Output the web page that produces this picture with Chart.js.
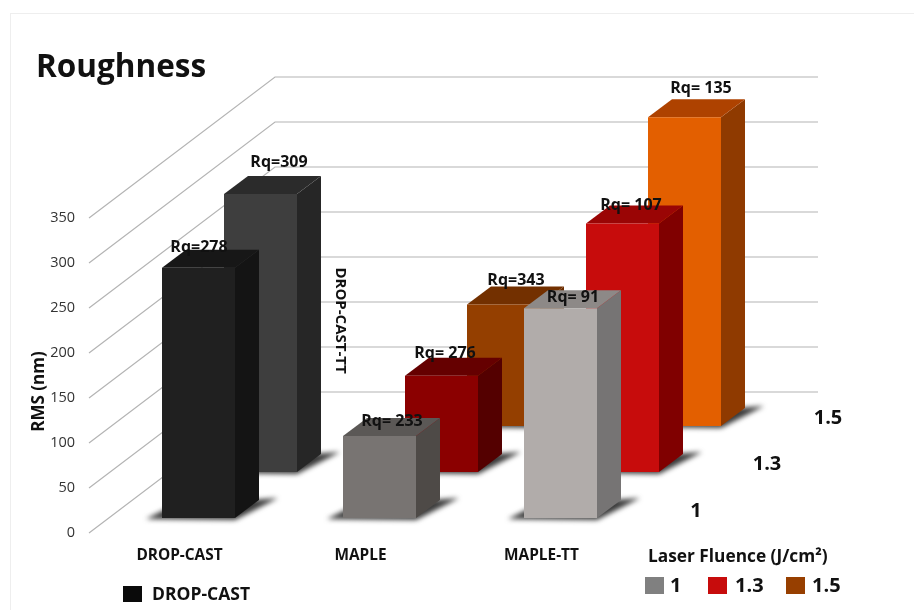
<!DOCTYPE html>
<html>
<head>
<meta charset="utf-8">
<title>Roughness</title>
<script src="https://cdn.jsdelivr.net/npm/chart.js@4"></script>
<style>
  html, body { margin: 0; background: #fff; overflow: hidden; }
  #wrap { position: relative; width: 914px; height: 610px; }
  #frame { position: absolute; left: 10px; top: 13px; width: 920px; height: 620px; border: 1px solid #eee; }
  canvas { position: absolute; left: 0; top: 0; }
</style>
</head>
<body>
<div id="wrap">
  <div id="frame"></div>
  <canvas id="roughChart" width="914" height="610"></canvas>
</div>
<script>
const SAMPLES = ['DROP-CAST', 'MAPLE', 'MAPLE-TT'];
const FLUENCES = ['1', '1.3', '1.5'];
const TT_NAME = 'DROP-CAST-TT';

// bar heights per depth row
const ROW_1 = [278, 91, 233];
const ROW_13 = [309, 107, 276];
const ROW_15 = [null, 135, 343];

// text printed over each bar
const LABELS_1 = ['Rq=278', 'Rq= 233', 'Rq= 91'];
const LABELS_13 = ['Rq=309', 'Rq= 276', 'Rq= 107'];
const LABELS_15 = ['', 'Rq=343', 'Rq= 135'];

const FONT = '"Open Sans", sans-serif';

// front, top and side colours per bar
const ROWS = [
    {
        values: ROW_1, labels: LABELS_1, dx: 19, dy: -15, depthLabel: [696, 510],
        front: ['#202020', '#787472', '#b1acaa'], top: ['#171717', '#5b5856', '#8d8987'], side: ['#141414', '#4e4a47', '#767474'],
        nudge: [[0.5, -22], [12.5, -16], [12.5, -12]]
    },
    {
        values: ROW_13, labels: LABELS_13, dx: 81, dy: -61, depthLabel: [767, 463],
        front: ['#3e3e3e', '#8b0000', '#c70c0c'], top: ['#2b2b2b', '#650000', '#9a0505'], side: ['#262626', '#540000', '#800000'],
        nudge: [[18.5, -33], [3.5, -24], [8.5, -20]]
    },
    {
        values: ROW_15, labels: LABELS_15, dx: 143, dy: -107, depthLabel: [828, 417],
        front: ['#000', '#943f00', '#e35f00'], top: ['#000', '#733000', '#ae4200'], side: ['#000', '#6a2c00', '#8f3a00'],
        nudge: [[0, 0], [12.5, -25.5], [16.5, -30]]
    }
];

const DEPTH_X = 24, DEPTH_Y = 18;
const WALL_DX = 186, WALL_DY = -141, WALL_RIGHT = 818;

function text(ctx, str, x, y, font, color, align, rot) {
    ctx.save();
    ctx.translate(x, y + 1.5);
    if (rot) ctx.rotate(rot);
    ctx.font = font;
    ctx.fillStyle = color || '#111';
    ctx.textAlign = align || 'center';
    ctx.textBaseline = 'middle';
    ctx.fillText(str, 0, 0);
    ctx.restore();
}

function poly(ctx, pts, color) {
    ctx.fillStyle = color;
    ctx.beginPath();
    pts.forEach((p, i) => i ? ctx.lineTo(p[0], p[1]) : ctx.moveTo(p[0], p[1]));
    ctx.closePath();
    ctx.fill();
}

const box3d = {
    id: 'box3d',
    // push each row back into the floor
    afterDatasetsUpdate(chart) {
        ROWS.forEach((row, d) => {
            chart.getDatasetMeta(d).data.forEach(el => {
                el.x += row.dx;
                el.y += row.dy;
                el.base += row.dy;
            });
        });
    },
    beforeDatasetsDraw(chart) {
        const ctx = chart.ctx, y = chart.scales.y;
        ctx.save();
        ctx.strokeStyle = '#b4b4b4';
        ctx.lineWidth = 1.2;
        y.ticks.forEach(t => {
            const py = y.getPixelForValue(t.value);
            const left = chart.chartArea.left;
            ctx.beginPath();
            ctx.moveTo(left, py);
            ctx.lineTo(left + WALL_DX, py + WALL_DY);
            ctx.lineTo(WALL_RIGHT, py + WALL_DY);
            ctx.stroke();
        });
        ctx.restore();
    },
    beforeDatasetDraw(chart, args) {
        const ctx = chart.ctx, row = ROWS[args.index];
        chart.getDatasetMeta(args.index).data.forEach((el, i) => {
            if (row.values[i] == null) return;
            const x0 = el.x - el.width / 2, x1 = el.x + el.width / 2, top = el.y, base = el.base;
            ctx.save();
            ctx.filter = 'blur(2.5px)';
            poly(ctx, [[x0 - 16, base + 1], [x0 + 10, base - 12], [x1 + DEPTH_X + 19, base - DEPTH_Y - 2], [x1, base + 2]], '#3a3a3a');
            ctx.restore();
            poly(ctx, [[x1, top], [x1 + DEPTH_X, top - DEPTH_Y], [x1 + DEPTH_X, base - DEPTH_Y], [x1, base]], row.side[i]);
            poly(ctx, [[x0, top], [x0 + DEPTH_X, top - DEPTH_Y], [x1 + DEPTH_X, top - DEPTH_Y], [x1, top]], row.top[i]);
        });
    },
    afterDatasetsDraw(chart) {
        const ctx = chart.ctx;
        ROWS.forEach((row, d) => {
            chart.getDatasetMeta(d).data.forEach((el, i) => {
                if (row.values[i] == null) return;
                text(ctx, row.labels[i], el.x + row.nudge[i][0], el.y + row.nudge[i][1], 'bold 16px ' + FONT);
            });
            text(ctx, FLUENCES[d], row.depthLabel[0], row.depthLabel[1], 'bold 20px ' + FONT);
        });

        text(ctx, 'Roughness', 36, 67, 'bold 31.5px ' + FONT, '#111', 'left');
        text(ctx, 'RMS (nm)', 39, 390, 'bold 17px ' + FONT, '#111', 'center', -Math.PI / 2);
        text(ctx, TT_NAME, 340, 319, 'bold 15px ' + FONT, '#111', 'center', Math.PI / 2);

        // hand-placed legends under the floor
        ctx.fillStyle = '#0a0a0a';
        ctx.fillRect(123, 586, 19, 16);
        text(ctx, SAMPLES[0], 152, 594, 'bold 17.5px ' + FONT, '#111', 'left');

        text(ctx, 'Laser Fluence (J/cm²)', 648, 556, 'bold 17.3px ' + FONT, '#111', 'left');
        const swatches = [[645, '#808080', 670], [708, '#c70c0c', 735], [786, '#973f00', 812]];
        swatches.forEach((s, i) => {
            ctx.fillStyle = s[1];
            ctx.fillRect(s[0], 577, 19, 17);
            text(ctx, FLUENCES[i], s[2], 585, 'bold 20px ' + FONT, '#111', 'left');
        });
    }
};

new Chart(document.getElementById('roughChart'), {
    type: 'bar',
    data: {
        labels: SAMPLES,
        datasets: ROWS.map((row, d) => ({
            label: FLUENCES[d],
            data: row.values,
            backgroundColor: row.front,
            borderWidth: 0,
            grouped: false,
            clip: false,
            categoryPercentage: 1,
            barPercentage: 73 / 181
        }))
    },
    options: {
        responsive: false,
        animation: false,
        events: [],
        layout: { padding: { top: 218, right: 282, left: 0, bottom: 0 } },
        plugins: { legend: { display: false }, tooltip: { enabled: false } },
        scales: {
            x: {
                grid: { display: false },
                border: { display: false },
                ticks: { padding: 5, color: '#111', font: { family: FONT, size: 15.4, weight: 'bold' } },
                afterFit: s => { s.height = 77; }
            },
            y: {
                min: 0,
                max: 350,
                grid: { display: false },
                border: { display: false },
                ticks: { stepSize: 50, padding: 6, color: '#333', font: { family: FONT, size: 14.5 } },
                afterFit: s => { s.width = 89; }
            }
        }
    },
    plugins: [box3d]
});
</script>
</body>
</html>
